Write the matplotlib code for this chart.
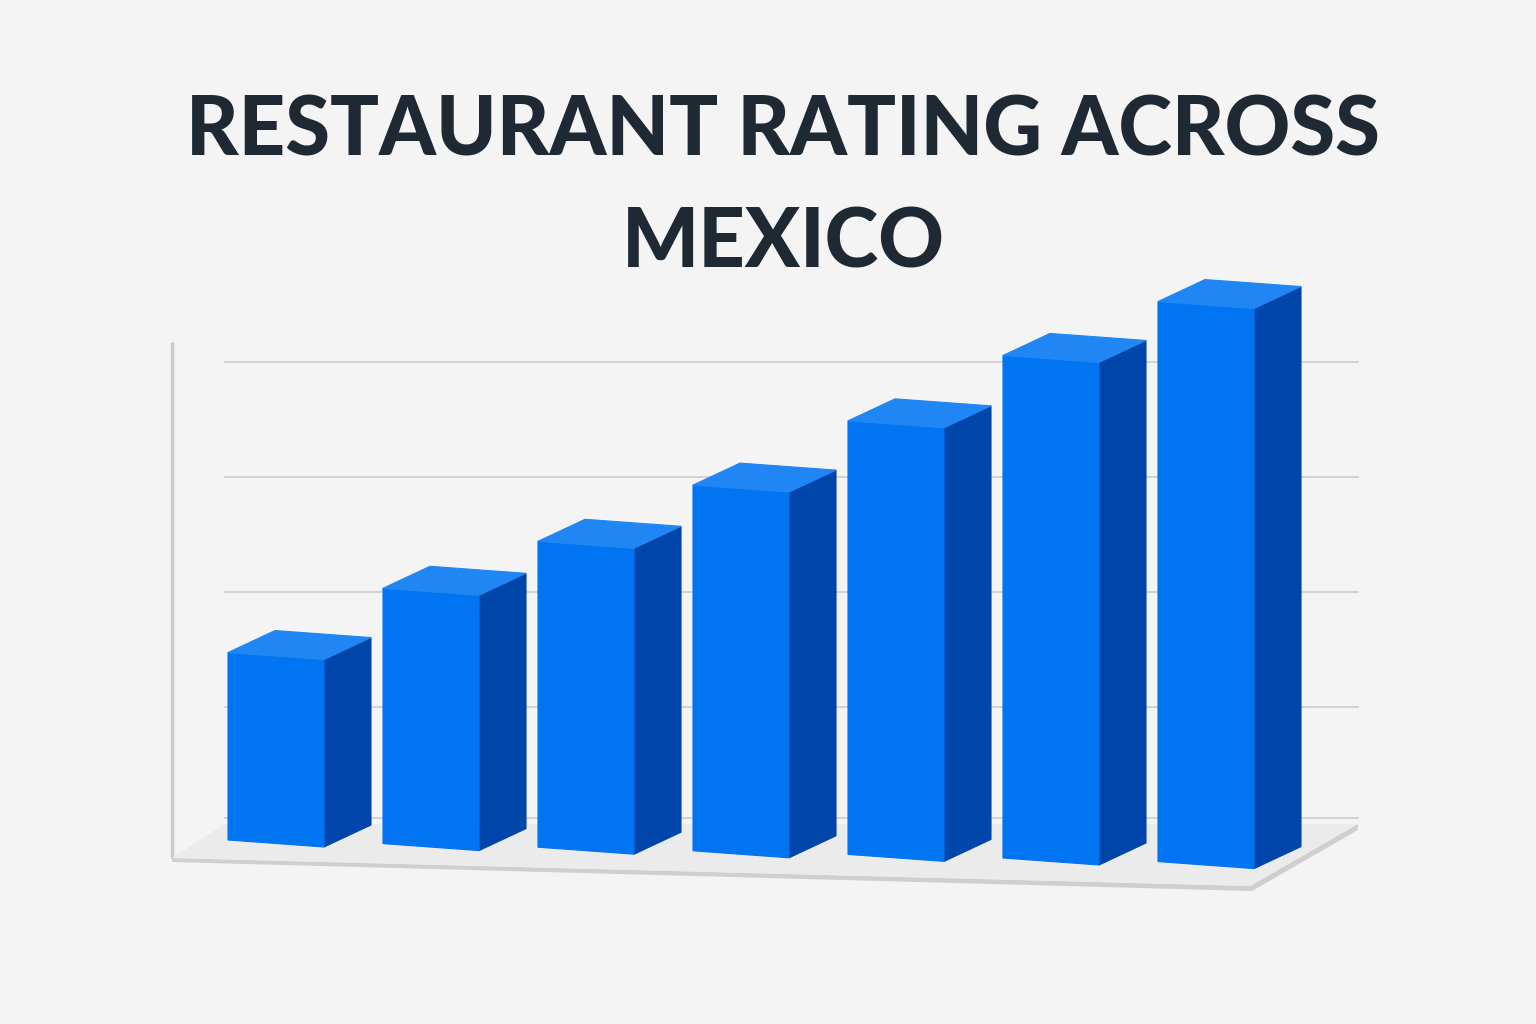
import matplotlib
matplotlib.use("Agg")
import matplotlib.pyplot as plt
from matplotlib.patches import Polygon

# ---- data ----
values = [1.63, 2.22, 2.66, 3.18, 3.77, 4.37, 4.87]
grid_levels = [1, 2, 3, 4]
title = "RESTAURANT RATING ACROSS\nMEXICO"

# ---- style / layout ----
BG = "#f4f4f4"
FRONT = "#0174f2"
SIDE = "#0045aa"
TOP = "#2086f4"
GRID = "#cfcfcf"
TITLE_C = "#1f2933"

W, H = 1536, 1024
X0, Y0 = 228, 840          # front-bottom-left of first bar (pixels)
STEP_X, STEP_Y = 155, 3.6  # per category
FACE_W, FACE_DY = 96, 7    # front face width and its slant
UNIT = 115                 # pixels per rating unit
DX, DY = 47, -22           # depth vector
FLOOR_BACK_Y = 822

def P(i, f, v, w):
    x = X0 + i * STEP_X + f * FACE_W + w * DX
    y = Y0 + i * STEP_Y + f * FACE_DY - v * UNIT + w * DY
    return (x, y)

fig = plt.figure(figsize=(W / 100, H / 100), dpi=100, facecolor=BG)
ax = fig.add_axes([0, 0, 1, 1])
ax.set_xlim(0, W)
ax.set_ylim(H, 0)
ax.axis("off")
ax.set_facecolor(BG)

# gridlines on back wall
for g in grid_levels:
    y = FLOOR_BACK_Y - g * UNIT
    ax.plot([225, 1358], [y, y], color=GRID, lw=1.3, zorder=1)
ax.plot([225, 1358], [FLOOR_BACK_Y - 4, FLOOR_BACK_Y - 4], color=GRID, lw=1.3, zorder=1)

# vertical axis line
ax.plot([172, 172], [342, 858], color="#cccccc", lw=2.5, zorder=1, solid_capstyle="butt")

# floor slab
floor_top = [(172, 858), (225, 824), (1358, 824), (1250, 886)]
floor_edge = [(172, 858), (1250, 886), (1358, 824), (1358, 830), (1252, 891), (172, 862)]
ax.add_patch(Polygon(floor_edge, closed=True, fc="#cfcfcf", ec="none", zorder=2))
ax.add_patch(Polygon(floor_top, closed=True, fc="#ebebeb", ec="none", zorder=2))

# bars
for i, v in enumerate(values):
    front = [P(i, 0, 0, 0), P(i, 1, 0, 0), P(i, 1, v, 0), P(i, 0, v, 0)]
    side = [P(i, 1, 0, 0), P(i, 1, 0, 1), P(i, 1, v, 1), P(i, 1, v, 0)]
    top = [P(i, 0, v, 0), P(i, 1, v, 0), P(i, 1, v, 1), P(i, 0, v, 1)]
    ax.add_patch(Polygon(side, closed=True, fc=SIDE, ec=SIDE, lw=0.8, zorder=3))
    ax.add_patch(Polygon(front, closed=True, fc=FRONT, ec=FRONT, lw=0.8, zorder=3))
    ax.add_patch(Polygon(top, closed=True, fc=TOP, ec=TOP, lw=0.8, zorder=3))

fig.text(783 / W, 1 - 188 / H, title, ha="center", va="center",
         fontsize=58.5, fontweight=900, family=["Lato", "DejaVu Sans"],
         color=TITLE_C, linespacing=1.6)

fig.savefig("out.png", dpi=100, facecolor=BG)
